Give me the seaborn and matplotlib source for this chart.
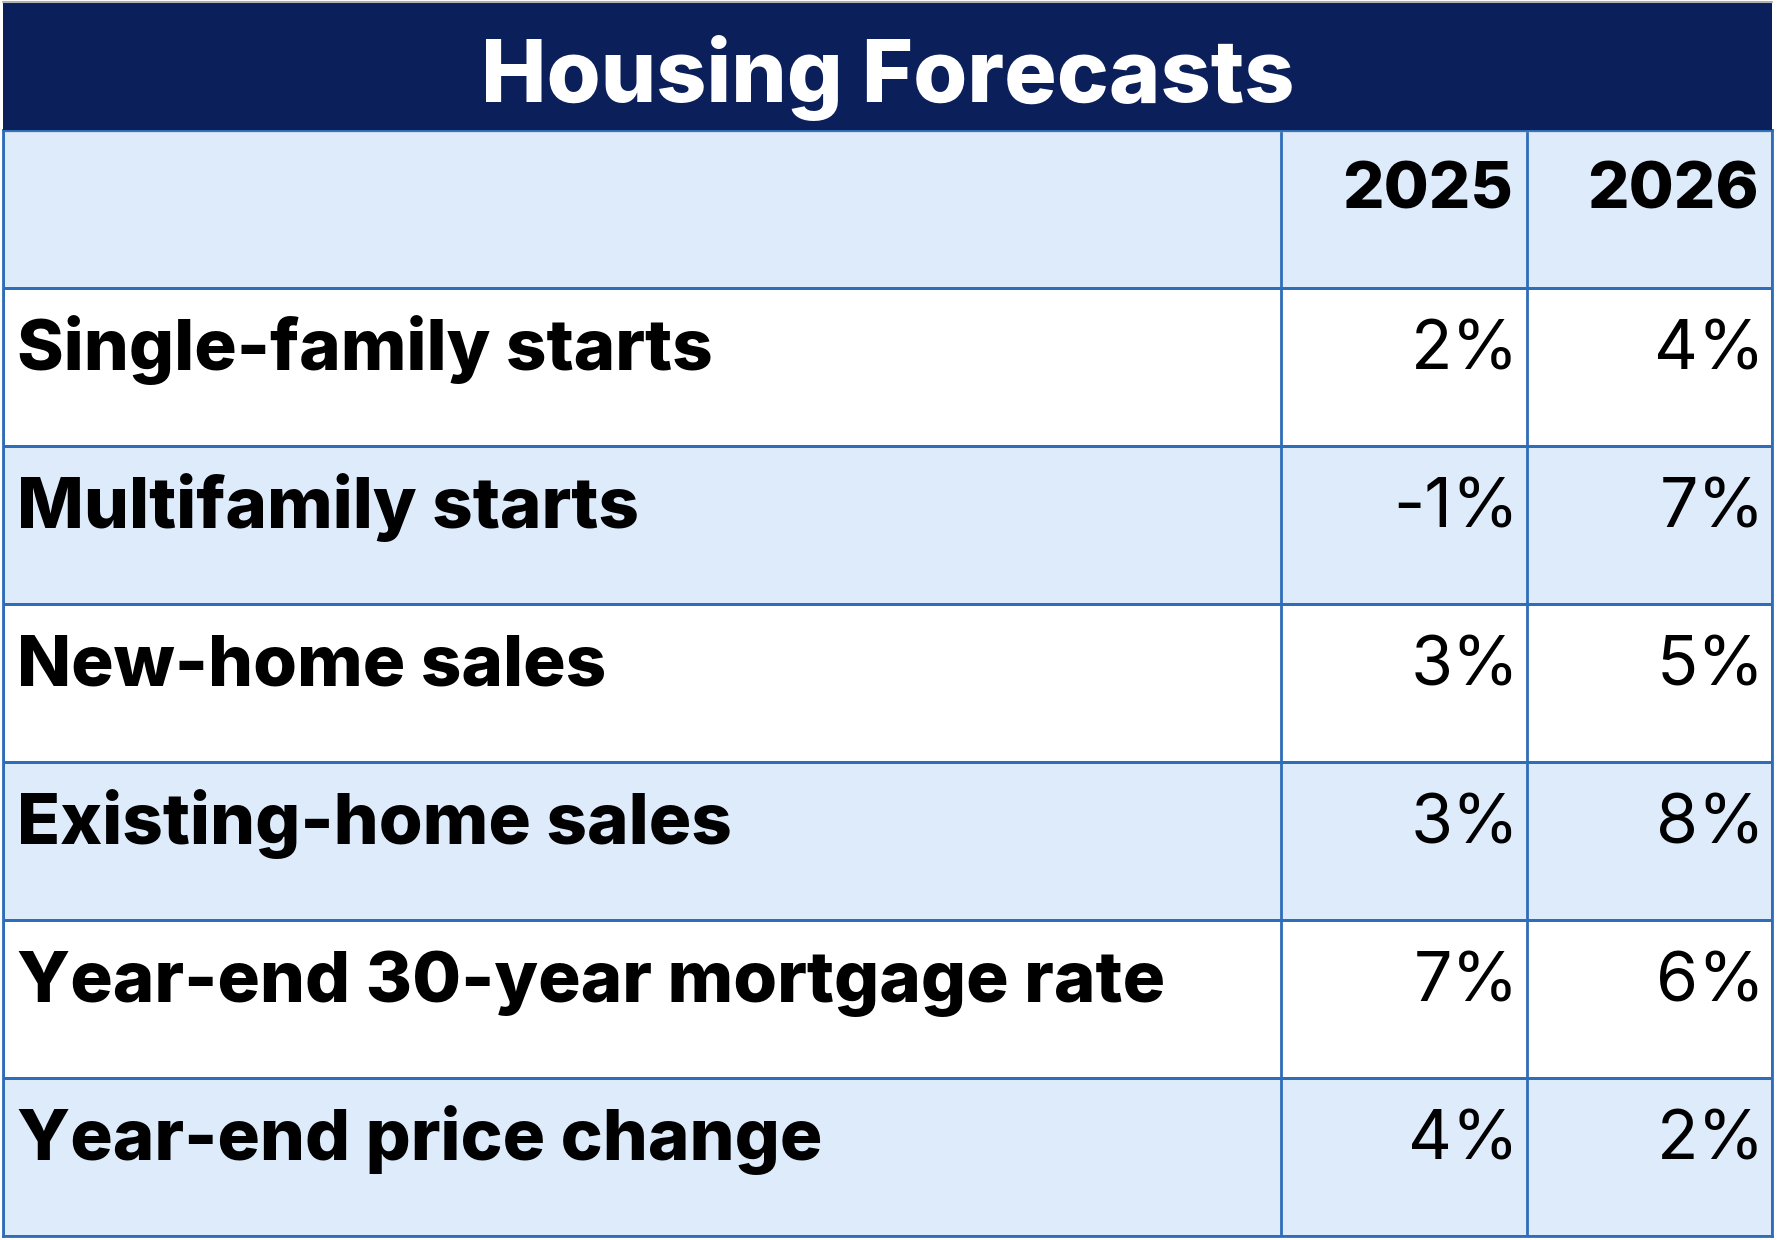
import numpy as np
import pandas as pd
import matplotlib
matplotlib.use("Agg")
import matplotlib.pyplot as plt
from matplotlib.colors import ListedColormap
from matplotlib.patches import Rectangle
import seaborn as sns

# Datos de la tabla
title = "Housing Forecasts"
years = ["2025", "2026"]
categories = [
    "Single-family starts",
    "Multifamily starts",
    "New-home sales",
    "Existing-home sales",
    "Year-end 30-year mortgage rate",
    "Year-end price change",
]
forecast_2025 = [2, -1, 3, 3, 7, 4]
forecast_2026 = [4, 7, 5, 8, 6, 2]

navy = "#0B1F5B"
light_blue = "#DDEBFB"
grid_blue = "#2E6DB8"

sns.set_theme(style="white")
plt.rcParams["font.family"] = ["Inter", "DejaVu Sans"]

W, H = 1778, 1240
fig = plt.figure(figsize=(W / 100, H / 100), dpi=100)
fig.patch.set_facecolor("white")

# Banda del titulo
fig.patches.append(Rectangle((3 / W, 1 - 130 / H), (1772 - 3) / W, 127 / H,
                             transform=fig.transFigure, facecolor=navy,
                             edgecolor="none", zorder=0))
fig.lines.append(plt.Line2D([3 / W, 1772 / W], [1 - 2 / H, 1 - 2 / H],
                            transform=fig.transFigure, color="#B0B0B0", lw=1.5))
fig.text(0.5 * (3 + 1772) / W, 1 - 102 / H, title, color="white",
         fontsize=63, fontweight=800, ha="center", va="baseline")

# Cuerpo: filas alternadas con heatmap
df = pd.DataFrame({"2025": forecast_2025, "2026": forecast_2026}, index=categories)
shade = np.array([[1]] + [[i % 2] for i in range(len(df))])  # cabecera + filas

top, bottom, left, right = 130, 1236, 3, 1772
ax = fig.add_axes([left / W, 1 - bottom / H, (right - left) / W, (bottom - top) / H])
sns.heatmap(shade, cmap=ListedColormap(["white", light_blue]), cbar=False,
            linewidths=2, linecolor=grid_blue, ax=ax, vmin=0, vmax=1)
ax.set_xticks([])
ax.set_yticks([])
for s in ax.spines.values():
    s.set_visible(True)
    s.set_color(grid_blue)
    s.set_linewidth(2)

def fx(px):
    return (px - left) / (right - left)

col_lines = [1281, 1527]
for c in col_lines:
    ax.axvline(fx(c), color=grid_blue, lw=2)
ax.axhline(0, color="#A8A8A8", lw=2.5)

row_h = (bottom - top) / (len(df) + 1)
base_off = 82 / row_h
num_x = [fx(1519), fx(1765)]
head_x = [fx(1513), fx(1759)]

# Cabecera
for x, yr in zip(head_x, years):
    ax.text(x, base_off - 0.02, yr, ha="right", va="baseline",
            fontsize=47, fontweight=800, color="black")

# Filas
for i, cat in enumerate(df.index):
    y = i + 1 + base_off
    ax.text(fx(17), y, cat, ha="left", va="baseline", fontsize=51,
            fontweight=800, color="black")
    for x, col in zip(num_x, years):
        ax.text(x, y, f"{df.loc[cat, col]}%", ha="right", va="baseline",
                fontsize=49, color="black")

fig.savefig("out.png", dpi=100)
